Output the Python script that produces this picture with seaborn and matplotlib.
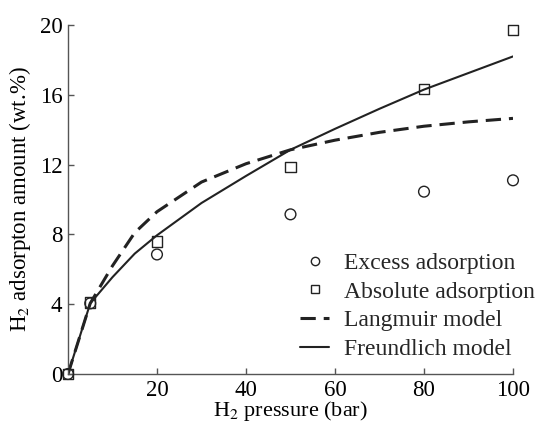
import matplotlib
matplotlib.use("Agg")
import matplotlib.pyplot as plt
import seaborn as sns
from matplotlib.lines import Line2D

# measured points
pressure = [0, 5, 20, 50, 80, 100]
excess = [0, 4.05, 6.85, 9.15, 10.45, 11.1]
absolute = [0, 4.1, 7.6, 11.85, 16.35, 19.7]

# model curves
model_p = [0, 5, 10, 15, 20, 30, 40, 50, 60, 70, 80, 90, 100]
langmuir = [0, 4.05, 6.2, 8.1, 9.3, 11.0, 12.05, 12.85, 13.4, 13.85, 14.2, 14.45, 14.65]
freundlich = [0, 4.05, 5.55, 6.9, 7.95, 9.8, 11.35, 12.85, 14.05, 15.2, 16.3, 17.25, 18.2]

x_ticks = [20, 40, 60, 80, 100]
y_ticks = [0, 4, 8, 12, 16, 20]


def main():
    sns.set_theme(style="ticks")
    plt.rcParams['font.family'] = ['Liberation Serif', 'DejaVu Serif']
    plt.rcParams['mathtext.fontset'] = 'stix'
    plt.rcParams['xtick.direction'] = 'in'
    plt.rcParams['ytick.direction'] = 'in'

    fig = plt.figure(figsize=(5.37, 4.24), dpi=100)
    ax = fig.add_axes([0.1266, 0.1179, 0.8287, 0.8231])

    ink = '#222222'
    dash = [5, 2.6]

    sns.lineplot(x=model_p, y=freundlich, ax=ax, color=ink, linewidth=1.5,
                 linestyle='-', estimator=None, sort=False)
    sns.lineplot(x=model_p, y=langmuir, ax=ax, color=ink, linewidth=2.2,
                 estimator=None, sort=False)
    ax.lines[-1].set_dashes(dash)

    sns.scatterplot(x=pressure, y=excess, ax=ax, marker='o', s=60,
                    facecolor='none', edgecolor=ink, linewidth=1.0, zorder=3,
                    clip_on=False)
    sns.scatterplot(x=pressure, y=absolute, ax=ax, marker='s', s=55,
                    facecolor='none', edgecolor=ink, linewidth=1.0, zorder=3,
                    clip_on=False)

    ax.set_xlim(0, 100)
    ax.set_ylim(0, 20)
    ax.set_xticks(x_ticks)
    ax.set_yticks(y_ticks)
    ax.tick_params(labelsize=16.5, length=4, width=1, color='#555555',
                   labelcolor='black', pad=4)

    ax.set_xlabel('H$_2$ pressure (bar)', fontsize=16, color='black', labelpad=-1)
    ax.set_ylabel('H$_2$ adsorpton amount (wt.%)', fontsize=16.5, color='black', labelpad=5)

    sns.despine(ax=ax)
    for side in ['left', 'bottom']:
        ax.spines[side].set_color('#555555')
        ax.spines[side].set_linewidth(1.0)

    handles = [
        Line2D([], [], marker='o', linestyle='none', markersize=6,
               markerfacecolor='none', markeredgecolor=ink, markeredgewidth=1.0),
        Line2D([], [], marker='s', linestyle='none', markersize=5.5,
               markerfacecolor='none', markeredgecolor=ink, markeredgewidth=1.0),
        Line2D([], [], color=ink, linewidth=2.2, dashes=dash),
        Line2D([], [], color=ink, linewidth=1.5),
    ]
    labels = ['Excess adsorption', 'Absolute adsorption',
              'Langmuir model', 'Freundlich model']
    ax.legend(handles, labels, loc='lower right', bbox_to_anchor=(1.08, 0.0),
              frameon=False, fontsize=17, handlelength=1.25, handletextpad=0.6,
              labelspacing=0.3, borderaxespad=0.2)

    fig.savefig('out.png', dpi=100)
    plt.close(fig)


if __name__ == "__main__":
    main()
